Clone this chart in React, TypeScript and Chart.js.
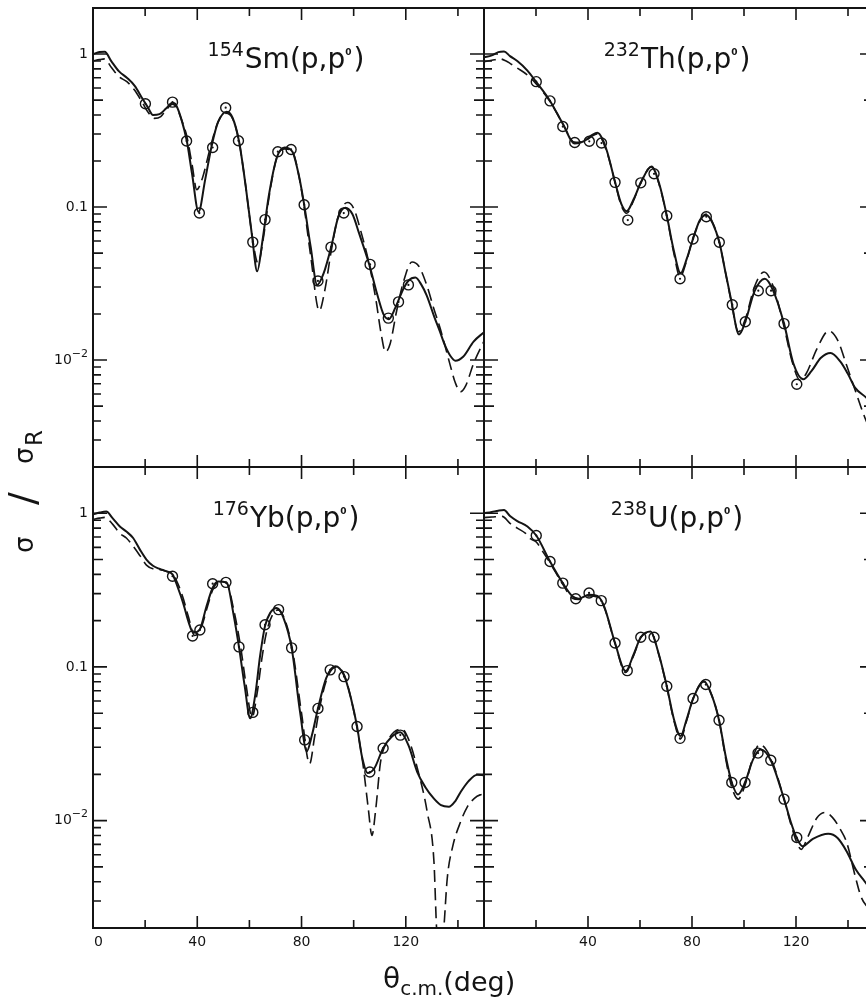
import React, { useEffect, useRef } from "react";
import { Chart, registerables } from "chart.js";

Chart.register(...registerables);

type Pt = [number, number];

// ---------------- data: [theta_cm (deg), sigma/sigma_R] ----------------
const smSolid: Pt[] = [
  [0, 1.0], [2.5, 1.03], [4.5, 1.035], [7, 0.9], [10, 0.77], [13, 0.7], [16, 0.62], [19, 0.51],
  [21, 0.45], [23, 0.4], [25.5, 0.405], [28, 0.44], [30.5, 0.48], [32, 0.46], [34, 0.37], [36, 0.27],
  [38, 0.165], [40.5, 0.093], [43, 0.15], [45.5, 0.25], [48, 0.36], [51.3, 0.42], [53.5, 0.385],
  [56, 0.27], [58.5, 0.14], [61, 0.065], [63, 0.038], [65, 0.06], [67.5, 0.12], [70.5, 0.21],
  [73.5, 0.245], [76.5, 0.23], [79, 0.16], [81, 0.104], [83.5, 0.055], [86, 0.031], [88.5, 0.037],
  [91.5, 0.056], [94, 0.085], [96.8, 0.099], [99.5, 0.09], [102, 0.068], [106, 0.042], [109, 0.027],
  [111.5, 0.0198], [113.5, 0.0185], [116, 0.022], [119, 0.029], [121, 0.033], [123.7, 0.0346],
  [126, 0.031], [128, 0.0265], [131, 0.019], [133, 0.0155], [135, 0.0125], [137, 0.0107],
  [139, 0.0099], [142, 0.0105], [146, 0.0132], [150, 0.0152],
];
const smDashed: Pt[] = [
  [0, 0.9], [2.5, 0.92], [4.5, 0.93], [7, 0.82], [10, 0.71], [13, 0.66], [16, 0.58], [19, 0.48],
  [21, 0.42], [23.5, 0.38], [26, 0.39], [28, 0.43], [30.5, 0.47], [32, 0.45], [34, 0.37], [36, 0.29],
  [38, 0.19], [39.8, 0.13], [42, 0.155], [45, 0.245], [48, 0.36], [51, 0.41], [53.5, 0.38], [56, 0.27],
  [58.5, 0.14], [61, 0.066], [63.3, 0.043], [65.5, 0.065], [67.5, 0.115], [70.5, 0.21], [73.5, 0.24],
  [76.5, 0.23], [79, 0.16], [81, 0.1], [83.5, 0.048], [86.8, 0.021], [89, 0.029], [91.5, 0.053],
  [94, 0.086], [97.7, 0.107], [100, 0.098], [102.5, 0.072], [106, 0.042], [108.5, 0.025],
  [110.5, 0.015], [112.2, 0.0113], [114, 0.0128], [116.5, 0.021], [119, 0.032], [122.4, 0.0437],
  [125, 0.041], [128, 0.031], [131, 0.021], [133, 0.0165], [135, 0.0125], [137, 0.0093],
  [139, 0.0071], [141, 0.0062], [143, 0.0068], [146, 0.0095], [150, 0.0133],
];
const smData: Pt[] = [
  [20.1, 0.473], [30.5, 0.485], [35.9, 0.27], [40.8, 0.0914], [45.9, 0.245], [50.9, 0.446],
  [55.8, 0.271], [61.3, 0.059], [66, 0.0828], [70.9, 0.23], [76, 0.238], [81, 0.1035],
  [86.3, 0.0329], [91.3, 0.0547], [96.2, 0.0914], [106.3, 0.0422], [113.3, 0.0188],
  [117.2, 0.024], [121, 0.031],
];

const thSolid: Pt[] = [
  [0, 0.95], [3, 0.98], [5.5, 1.03], [7.7, 1.04], [10, 0.97], [12.8, 0.9], [16.7, 0.78], [20, 0.66],
  [25.4, 0.494], [30.3, 0.35], [34.9, 0.26], [38.5, 0.27], [41.5, 0.295], [43.6, 0.306], [45.5, 0.28],
  [47.4, 0.229], [50.4, 0.146], [52.8, 0.105], [54.9, 0.094], [57.5, 0.112], [60.3, 0.144],
  [64.4, 0.184], [67.5, 0.14], [70.3, 0.088], [73, 0.052], [75.6, 0.037], [78, 0.046], [80.4, 0.062],
  [83, 0.082], [85.5, 0.0887], [88, 0.078], [90.5, 0.059], [92.8, 0.038], [94.9, 0.0255],
  [98.1, 0.0147], [100.5, 0.0178], [104, 0.028], [108, 0.034], [111, 0.029], [115.4, 0.0173],
  [119, 0.0095], [122.8, 0.0075], [126, 0.0085], [129.5, 0.0103], [133.3, 0.0111], [137, 0.0098],
  [140, 0.0081], [142.7, 0.0066], [146.9, 0.0057], [150, 0.005],
];
const thDashed: Pt[] = [
  [0, 0.89], [3, 0.91], [6.2, 0.93], [8.5, 0.9], [10, 0.87], [12.8, 0.81], [16.7, 0.73], [20, 0.64],
  [25.4, 0.49], [30.3, 0.35], [34.9, 0.265], [38.5, 0.27], [43.6, 0.3], [47.4, 0.225], [50.4, 0.145],
  [52.8, 0.102], [54.9, 0.091], [57.5, 0.11], [60.3, 0.145], [64.4, 0.183], [67.5, 0.138],
  [70.3, 0.087], [73, 0.05], [75.4, 0.035], [78, 0.045], [80.4, 0.063], [85.5, 0.09], [88, 0.079],
  [90.5, 0.059], [92.8, 0.038], [94.9, 0.025], [97.9, 0.0153], [100.5, 0.0185], [104, 0.03],
  [107.7, 0.0376], [111, 0.031], [115.4, 0.0165], [118.5, 0.0098], [121.5, 0.0074], [124, 0.0082],
  [128, 0.0118], [132.6, 0.0155], [136, 0.0135], [139.5, 0.0092], [142.7, 0.0064], [146.5, 0.0042],
  [150, 0.0031],
];
const thData: Pt[] = [
  [20.1, 0.66], [25.4, 0.494], [30.3, 0.336], [34.9, 0.264], [40.5, 0.269], [45.2, 0.262],
  [50.4, 0.145], [55.3, 0.0822], [60.3, 0.144], [65.4, 0.165], [70.3, 0.0878], [75.4, 0.034],
  [80.4, 0.0619], [85.5, 0.0865], [90.5, 0.0589], [95.5, 0.023], [100.5, 0.0178], [105.5, 0.0284],
  [110.4, 0.0284], [115.4, 0.0173], [120.3, 0.00695],
];

const ybSolid: Pt[] = [
  [0, 0.985], [2.5, 1.01], [5.1, 1.025], [7.5, 0.93], [10.3, 0.82], [12.8, 0.76], [15.4, 0.69],
  [18, 0.58], [20.5, 0.5], [23, 0.455], [25.6, 0.434], [28, 0.42], [30.5, 0.4], [32.5, 0.33],
  [34.6, 0.26], [36.5, 0.2], [38.5, 0.167], [41, 0.176], [43.6, 0.25], [46, 0.33], [48, 0.36],
  [51.3, 0.354], [53.8, 0.225], [56, 0.135], [58.2, 0.075], [60.3, 0.0463], [62.2, 0.065],
  [64.1, 0.118], [66, 0.185], [68, 0.225], [70.5, 0.242], [73, 0.21], [76.2, 0.133], [79.5, 0.05],
  [82, 0.0282], [84, 0.036], [86.3, 0.0537], [89.5, 0.085], [93, 0.101], [96.3, 0.088], [99, 0.062],
  [101.3, 0.041], [103.2, 0.026], [105.4, 0.0204], [108, 0.022], [111.3, 0.0296], [114.5, 0.035],
  [117.9, 0.0376], [121, 0.031], [124.4, 0.0207], [127.5, 0.0165], [130.8, 0.0139], [133.5, 0.0126],
  [136.5, 0.0123], [139, 0.0134], [141, 0.0153], [144, 0.018], [147.4, 0.0199], [150, 0.0197],
];
const ybDashed: Pt[] = [
  [0, 0.91], [2.5, 0.93], [4.5, 0.94], [7.5, 0.85], [10.3, 0.74], [12.8, 0.69], [15.4, 0.61],
  [18, 0.53], [20.5, 0.46], [23, 0.435], [25.6, 0.43], [28, 0.42], [30.5, 0.4], [32.5, 0.35],
  [34.6, 0.28], [36.5, 0.215], [39, 0.16], [41.5, 0.18], [44, 0.25], [46, 0.32], [48.5, 0.36],
  [51.3, 0.35], [54, 0.235], [56.5, 0.14], [58.8, 0.075], [61, 0.047], [63, 0.068], [65, 0.12],
  [67, 0.18], [71, 0.235], [73.5, 0.205], [76.5, 0.13], [80, 0.05], [83.1, 0.0234], [85, 0.035],
  [87, 0.055], [90, 0.086], [93.5, 0.1], [96.5, 0.088], [99, 0.062], [101.3, 0.04], [103.6, 0.023],
  [105.6, 0.012], [107, 0.008], [108.5, 0.012], [110.3, 0.024], [113, 0.033], [118.5, 0.0395],
  [121, 0.034], [124.4, 0.022], [128.2, 0.0114], [130.8, 0.0054], [131.8, 0.002], [133.2, 0.0011],
  [134.6, 0.002], [135.9, 0.0042], [138, 0.0068], [141, 0.0098], [143.5, 0.0122], [146.2, 0.0139],
  [148.5, 0.0147], [150, 0.0148],
];
const ybData: Pt[] = [
  [30.5, 0.389], [38.2, 0.159], [41, 0.174], [45.9, 0.348], [51, 0.355], [56, 0.135], [61.3, 0.0506],
  [66, 0.188], [71.2, 0.236], [76.2, 0.133], [81.2, 0.0335], [86.3, 0.0537], [91, 0.0957],
  [96.3, 0.0865], [101.3, 0.041], [106.2, 0.0207], [111.3, 0.0296], [117.9, 0.036],
];

const uSolid: Pt[] = [
  [0, 1.0], [3, 1.02], [5.5, 1.04], [7.7, 1.05], [10, 0.96], [12.8, 0.89], [16.7, 0.82],
  [20.1, 0.716], [25.4, 0.485], [30.3, 0.351], [34, 0.288], [36.5, 0.278], [40.4, 0.295],
  [43.6, 0.29], [46.2, 0.248], [50.4, 0.143], [54.5, 0.094], [57.5, 0.12], [60.3, 0.156],
  [64.1, 0.17], [67, 0.125], [70.3, 0.075], [73, 0.046], [75.6, 0.0355], [78, 0.046], [80.4, 0.062],
  [84.6, 0.0807], [87.5, 0.066], [90.4, 0.045], [93, 0.026], [95.3, 0.0177], [97.7, 0.0148],
  [100.4, 0.0177], [103.5, 0.025], [106.4, 0.029], [110.3, 0.0247], [115.4, 0.0138], [118, 0.0098],
  [120.3, 0.0077], [122.5, 0.0068], [126.5, 0.0076], [132.4, 0.0082], [136, 0.0077], [139.5, 0.0063],
  [143, 0.0048], [146.5, 0.004], [150, 0.0033],
];
const uDashed: Pt[] = [
  [0, 0.937], [3, 0.945], [7, 0.955], [10, 0.86], [12.8, 0.8], [16, 0.74], [18, 0.68], [20.1, 0.65],
  [23, 0.55], [25.4, 0.475], [30.3, 0.345], [34, 0.28], [36.5, 0.275], [40.4, 0.29], [43.6, 0.285],
  [46.2, 0.245], [50.4, 0.142], [54.5, 0.092], [57.5, 0.118], [60.3, 0.155], [64.1, 0.168],
  [67, 0.124], [70.3, 0.074], [73, 0.045], [75.6, 0.034], [78, 0.045], [80.4, 0.062], [84.6, 0.08],
  [87.5, 0.066], [90.4, 0.045], [93, 0.025], [95.3, 0.0165], [97.8, 0.0138], [100.4, 0.017],
  [103.5, 0.026], [106, 0.0313], [110.3, 0.0255], [115.4, 0.0138], [118, 0.0095], [120.3, 0.0072],
  [122, 0.0065], [124.5, 0.0078], [128, 0.0104], [131.2, 0.0113], [134, 0.0105], [137, 0.0088],
  [139.5, 0.0072], [142.7, 0.0044], [145, 0.0032], [147, 0.0028], [150, 0.0026],
];
const uData: Pt[] = [
  [20.1, 0.716], [25.4, 0.485], [30.3, 0.351], [35.3, 0.278], [40.4, 0.303], [45.1, 0.27],
  [50.4, 0.143], [55.1, 0.0946], [60.3, 0.156], [65.4, 0.156], [70.3, 0.0749], [75.4, 0.0343],
  [80.4, 0.0623], [85.3, 0.0768], [90.4, 0.045], [95.3, 0.0177], [100.4, 0.0177], [105.4, 0.0275],
  [110.3, 0.0247], [115.4, 0.0138], [120.3, 0.00776],
];

// ---------------- axes / labels ----------------
const X_MIN = 0;
const X_MAX = 150;
const Y_MIN = 0.002;
const Y_MAX = 2;
const xTickValues = [20, 40, 60, 80, 100, 120, 140];
const xMajorTicks = [40, 80, 120];
const xLabelsLeft = [0, 40, 80, 120];
const xLabelsRight = [40, 80, 120];
const yDecades = [0.001, 0.01, 0.1, 1];
const yMinorSteps = [1, 2, 3, 4, 5, 6, 7, 8, 9];
const yLabelValues = [1, 0.1, 0.01];
const yLabelTexts = ["1", "0.1", "10"];
const yLabelSups = ["", "", "\u22122"];
const massNumbers = ["154", "232", "176", "238"];
const elements = ["Sm", "Th", "Yb", "U"];
const reactionText = "(p,p";
const reactionSup = "0";
const xTitleMain = "\u03B8";
const xTitleSub = "c.m.";
const xTitleUnit = "(deg)";
const yTitleSigma = "\u03C3";
const yTitleSlash = "/";
const yTitleSub = "R";

const FONT = "'DejaVu Sans', 'Liberation Sans', sans-serif";
const INK = "#141414";

interface Rect { left: number; top: number; right: number; bottom: number }
interface CanvasBox { left: number; top: number; width: number; height: number }
interface PanelDef {
  key: string;
  mass: string;
  element: string;
  solid: Pt[];
  dashed: Pt[];
  points: Pt[];
  canvas: CanvasBox;
  area: Rect;
  yLabels: boolean;
  xLabels: number[] | null;
  axisTitles: boolean;
}

const panels: PanelDef[] = [
  {
    key: "tl", mass: massNumbers[0], element: elements[0], solid: smSolid, dashed: smDashed, points: smData,
    canvas: { left: 0, top: 0, width: 524, height: 507 }, area: { left: 93, top: 8, right: 484, bottom: 467 },
    yLabels: true, xLabels: null, axisTitles: false,
  },
  {
    key: "tr", mass: massNumbers[1], element: elements[1], solid: thSolid, dashed: thDashed, points: thData,
    canvas: { left: 444, top: 0, width: 470, height: 507 }, area: { left: 484, top: 8, right: 874, bottom: 467 },
    yLabels: false, xLabels: null, axisTitles: false,
  },
  {
    key: "bl", mass: massNumbers[2], element: elements[2], solid: ybSolid, dashed: ybDashed, points: ybData,
    canvas: { left: 0, top: 400, width: 600, height: 598 }, area: { left: 93, top: 467, right: 484, bottom: 928 },
    yLabels: true, xLabels: xLabelsLeft, axisTitles: true,
  },
  {
    key: "br", mass: massNumbers[3], element: elements[3], solid: uSolid, dashed: uDashed, points: uData,
    canvas: { left: 444, top: 427, width: 470, height: 571 }, area: { left: 484, top: 467, right: 874, bottom: 928 },
    yLabels: false, xLabels: xLabelsRight, axisTitles: false,
  },
];

function makeDecor(def: PanelDef) {
  return {
    id: "decor-" + def.key,
    afterDraw(chart: any) {
      const ctx: CanvasRenderingContext2D = chart.ctx;
      const { left, top, right, bottom } = chart.chartArea;
      const xs = chart.scales.x;
      const ys = chart.scales.y;
      ctx.save();
      ctx.strokeStyle = INK;
      ctx.fillStyle = INK;
      ctx.lineCap = "butt";

      // frame
      ctx.lineWidth = 2;
      ctx.strokeRect(left, top, right - left, bottom - top);

      // inward tick marks
      ctx.lineWidth = 1.6;
      ctx.beginPath();
      for (const v of xTickValues) {
        const px = xs.getPixelForValue(v);
        const len = xMajorTicks.includes(v) ? 12 : 8;
        ctx.moveTo(px, top);
        ctx.lineTo(px, top + len);
        ctx.moveTo(px, bottom);
        ctx.lineTo(px, bottom - len);
      }
      for (const d of yDecades) {
        for (const m of yMinorSteps) {
          const v = d * m;
          if (v <= Y_MIN * 1.001 || v >= Y_MAX * 0.999) continue;
          const py = ys.getPixelForValue(v);
          const len = m === 1 ? 14 : m === 5 ? 10 : 8;
          ctx.moveTo(left, py);
          ctx.lineTo(left + len, py);
          ctx.moveTo(right, py);
          ctx.lineTo(right - len, py);
        }
      }
      ctx.stroke();

      // y tick labels
      if (def.yLabels) {
        ctx.textBaseline = "middle";
        ctx.textAlign = "right";
        yLabelValues.forEach((v, i) => {
          const py = ys.getPixelForValue(v);
          const xr = left - 5;
          const sup = yLabelSups[i];
          if (sup) {
            ctx.font = `11px ${FONT}`;
            const sw = ctx.measureText(sup).width;
            ctx.fillText(sup, xr, py - 6);
            ctx.font = `14px ${FONT}`;
            ctx.fillText(yLabelTexts[i], xr - sw, py);
          } else {
            ctx.font = `14px ${FONT}`;
            ctx.fillText(yLabelTexts[i], xr, py);
          }
        });
      }

      // x tick labels
      if (def.xLabels) {
        ctx.textBaseline = "middle";
        ctx.font = `14px ${FONT}`;
        for (const v of def.xLabels) {
          const px = xs.getPixelForValue(v);
          ctx.textAlign = v === 0 ? "left" : "center";
          ctx.fillText(String(v), v === 0 ? px + 1 : px, bottom + 14);
        }
      }

      // panel title: mass number (raised), element + (p,p, raised 0, )
      {
        const base = top + 60;
        const cx = left + 193;
        const parts: { t: string; font: string; dy: number; gapAfter: number }[] = [
          { t: def.mass, font: `19px ${FONT}`, dy: -12, gapAfter: 1 },
          { t: def.element + reactionText, font: `28px ${FONT}`, dy: 0, gapAfter: 0 },
          { t: reactionSup, font: `bold 9px ${FONT}`, dy: -13, gapAfter: 2 },
          { t: ")", font: `28px ${FONT}`, dy: 0, gapAfter: 0 },
        ];
        let total = 0;
        const widths = parts.map((p) => {
          ctx.font = p.font;
          const w = ctx.measureText(p.t).width;
          total += w + p.gapAfter;
          return w;
        });
        let x = cx - total / 2;
        ctx.textAlign = "left";
        ctx.textBaseline = "alphabetic";
        parts.forEach((p, i) => {
          ctx.font = p.font;
          ctx.fillText(p.t, x, base + p.dy);
          x += widths[i] + p.gapAfter;
        });
      }

      // overall axis titles (page coordinates converted to this canvas)
      if (def.axisTitles) {
        const ox = def.canvas.left;
        const oy = def.canvas.top;
        ctx.textAlign = "left";
        ctx.textBaseline = "alphabetic";
        // x title
        let x = 383 - ox;
        ctx.font = `28px ${FONT}`;
        ctx.fillText(xTitleMain, x, 988 - oy);
        x += ctx.measureText(xTitleMain).width;
        ctx.font = `20px ${FONT}`;
        ctx.fillText(xTitleSub, x, 995 - oy);
        x += ctx.measureText(xTitleSub).width;
        ctx.font = `27px ${FONT}`;
        ctx.fillText(xTitleUnit, x, 991 - oy);

        // y title, rotated (reads bottom to top)
        ctx.save();
        ctx.translate(33 - ox, 0);
        ctx.rotate(-Math.PI / 2);
        // local coords: x' = -(pageY - oy), y' = pageX - 33
        const at = (pageY: number) => -(pageY - oy);
        ctx.font = `26px ${FONT}`;
        ctx.fillText(yTitleSigma, at(553), 0);
        ctx.font = `38px ${FONT}`;
        ctx.fillText(yTitleSlash, at(505), 2);
        ctx.font = `26px ${FONT}`;
        ctx.fillText(yTitleSigma, at(464), 0);
        ctx.font = `23px ${FONT}`;
        ctx.fillText(yTitleSub, at(446), 9);
        ctx.restore();
      }
      ctx.restore();
    },
  };
}

function Panel({ def }: { def: PanelDef }) {
  const ref = useRef<HTMLCanvasElement | null>(null);
  useEffect(() => {
    const c = def.canvas;
    const a = def.area;
    const pad = {
      left: a.left - c.left,
      top: a.top - c.top,
      right: c.left + c.width - a.right,
      bottom: c.top + c.height - a.bottom,
    };
    const toXY = (p: Pt[]) => p.map(([x, y]) => ({ x, y }));
    const chart = new Chart(ref.current as HTMLCanvasElement, {
      type: "line",
      data: {
        datasets: [
          {
            data: toXY(def.points), showLine: false, pointRadius: 5, pointHoverRadius: 5,
            pointBorderWidth: 1.4, pointBorderColor: INK, pointBackgroundColor: "rgba(0,0,0,0)", clip: false,
          } as any,
          {
            data: toXY(def.points), showLine: false, pointRadius: 1.1, pointHoverRadius: 1.1,
            pointBorderWidth: 0, pointBackgroundColor: INK, pointBorderColor: INK, clip: false,
          } as any,
          {
            data: toXY(def.solid), borderColor: INK, borderWidth: 2, pointRadius: 0, pointHoverRadius: 0,
            cubicInterpolationMode: "monotone", fill: false, clip: 1,
          } as any,
          {
            data: toXY(def.dashed), borderColor: INK, borderWidth: 1.6, borderDash: [12, 6], pointRadius: 0,
            pointHoverRadius: 0, cubicInterpolationMode: "monotone", fill: false, clip: 1,
          } as any,
        ],
      },
      options: {
        responsive: false,
        animation: false,
        events: [],
        layout: { padding: pad, autoPadding: false } as any,
        plugins: { legend: { display: false }, tooltip: { enabled: false }, title: { display: false } },
        scales: {
          x: { type: "linear", min: X_MIN, max: X_MAX, display: false },
          y: { type: "logarithmic", min: Y_MIN, max: Y_MAX, display: false },
        },
      },
      plugins: [makeDecor(def)],
    });
    return () => chart.destroy();
  }, [def]);
  return (
    <canvas
      ref={ref}
      width={def.canvas.width}
      height={def.canvas.height}
      style={{ position: "absolute", left: def.canvas.left, top: def.canvas.top }}
    />
  );
}

export default function App() {
  return (
    <div
      style={{
        position: "absolute", left: 0, top: 0, width: 866, height: 998,
        overflow: "hidden", background: "#ffffff",
      }}
    >
      {panels.map((p) => (
        <Panel key={p.key} def={p} />
      ))}
    </div>
  );
}
